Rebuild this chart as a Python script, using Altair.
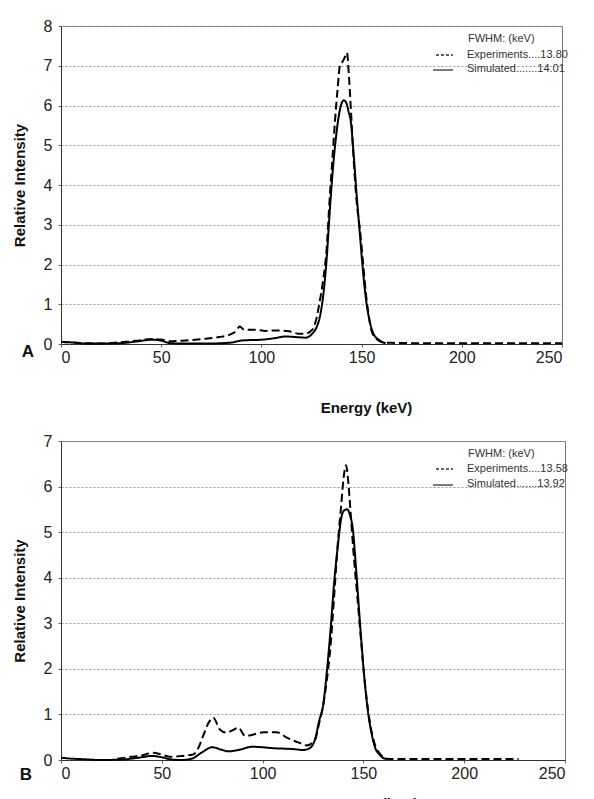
import altair as alt
import pandas as pd

# ---------------- data ----------------
x_ticks = [0, 50, 100, 150, 200, 250]

A_exp_E = [0, 5, 12, 21, 29, 37, 45.7, 50.7, 54, 62, 70.6, 79, 84, 87.2, 89.2, 91.4, 97, 102, 107, 113.7,
           118.7, 122, 125.4, 127, 129.2, 130.8, 132.5, 134.2, 135.5, 136.7, 138, 139.3, 140.5, 141.5, 142.7,
           143.6, 144.6, 145.6, 147.5, 149.4, 150.8, 152.2, 153.6, 155, 157, 158.8, 161, 165, 180, 200, 220, 250]
A_exp_I = [0.05, 0.04, 0.02, 0.01, 0.04, 0.08, 0.125, 0.11, 0.07, 0.09, 0.125, 0.175, 0.23, 0.32, 0.44, 0.36,
           0.36, 0.33, 0.34, 0.32, 0.26, 0.26, 0.36, 0.55, 1.1, 1.6, 2.36, 3.77, 4.7, 5.6, 6.4, 7.04, 7.1, 7.2,
           7.33, 6.8, 5.95, 5.0, 3.6, 2.77, 2.0, 1.25, 0.7, 0.33, 0.15, 0.08, 0.04, 0.03, 0.02, 0.02, 0.02, 0.02]

A_sim_E = [0, 5, 13, 29, 37.4, 45.7, 50.7, 54, 62, 70.6, 84, 90.6, 100.5, 107, 112, 117, 122, 125.4, 127.5,
           129.2, 130.8, 132.5, 134.2, 135.5, 137, 138.5, 140, 141.2, 142.5, 143.5, 144.6, 146, 147.5, 149,
           150.4, 152, 154, 156, 158.8, 160.7, 162]
A_sim_I = [0.05, 0.04, 0.01, 0.02, 0.06, 0.11, 0.075, 0.025, 0.01, 0.01, 0.03, 0.09, 0.11, 0.15, 0.19, 0.175,
           0.16, 0.26, 0.42, 0.69, 1.2, 2.1, 3.4, 4.3, 5.1, 5.7, 6.05, 6.13, 6.05, 5.85, 5.6, 4.8, 3.77, 2.85,
           2.0, 1.2, 0.58, 0.25, 0.1, 0.04, 0.02]

B_exp_E = [28, 35, 40, 45.7, 50, 54, 60, 65.6, 68, 70.5, 73, 75.5, 78.8, 82.1, 85.5, 88, 91.3, 94.6, 97, 100.4,
           104, 107, 112, 115, 118.7, 122, 126, 128, 130.3, 132, 133.6, 135.5, 137.3, 139, 140.2, 141.4, 142.5,
           143.8, 145, 146.7, 148.5, 150.4, 152.3, 154.2, 156, 158, 161.7, 170, 200, 227]
B_exp_I = [0.03, 0.07, 0.1, 0.16, 0.12, 0.07, 0.09, 0.12, 0.25, 0.53, 0.8, 0.93, 0.67, 0.6, 0.66, 0.71, 0.53,
           0.55, 0.58, 0.61, 0.61, 0.61, 0.49, 0.43, 0.37, 0.32, 0.45, 0.8, 1.26, 1.8, 2.45, 3.6, 4.75, 5.6, 6.2,
           6.47, 6.1, 5.34, 4.6, 3.73, 2.8, 1.84, 1.1, 0.59, 0.3, 0.15, 0.03, 0.02, 0.02, 0.02]

B_sim_E = [0, 5, 10, 20, 30, 40, 45, 50, 55, 60, 65, 70, 75, 80, 83, 88, 95, 100, 105, 110, 115, 120, 123, 126,
           128, 130, 132, 133.6, 135.5, 137.3, 139.2, 140.5, 142, 143.3, 144.8, 146.2, 147.6, 149, 150.4, 152.3,
           154.2, 156, 158, 160, 162]
B_sim_I = [0.05, 0.03, 0.02, 0.0, 0.01, 0.06, 0.09, 0.06, 0.01, 0.0, 0.03, 0.17, 0.28, 0.22, 0.19, 0.22, 0.29,
           0.28, 0.26, 0.25, 0.24, 0.22, 0.25, 0.45, 0.85, 1.2, 2.0, 2.8, 3.9, 4.69, 5.35, 5.48, 5.5, 5.38, 5.05,
           4.3, 3.44, 2.6, 1.84, 1.05, 0.55, 0.25, 0.12, 0.04, 0.02]

series_names = ["Experiments", "Simulated"]
legend_title = "FWHM: (keV)"
A_legend = ["Experiments....13.80", "Simulated.......14.01"]
B_legend = ["Experiments....13.58", "Simulated.......13.92"]

FONT = "Liberation Sans"


def one(label):
    return alt.Chart(pd.DataFrame({"t": [label]}))


def panel(exp_E, exp_I, sim_E, sim_I, ymax, w, h, legend_labels, letter, tx, ty, leg_y, letter_xy):
    df = pd.concat([
        pd.DataFrame({"E": exp_E, "I": exp_I, "series": series_names[0]}),
        pd.DataFrame({"E": sim_E, "I": sim_I, "series": series_names[1]}),
    ])
    lines = alt.Chart(df).mark_line(color="black", strokeWidth=2, interpolate="monotone").encode(
        x=alt.X("E:Q", scale=alt.Scale(domain=[0, 250], nice=False),
                axis=alt.Axis(values=x_ticks, title="Energy (keV)", titleX=tx, titleY=ty,
                              titleBaseline="top", grid=False)),
        y=alt.Y("I:Q", scale=alt.Scale(domain=[0, ymax], nice=False),
                axis=alt.Axis(values=list(range(ymax + 1)), title="Relative Intensity", grid=True)),
        strokeDash=alt.StrokeDash("series:N", scale=alt.Scale(domain=series_names, range=[[8, 4], [1, 0]]),
                                  legend=None),
        detail="series:N",
    )
    lx0, lx1, tx0 = 372, 392, 406
    t_title = one(legend_title).mark_text(align="left", baseline="middle", fontSize=11, font=FONT,
                                          color="#333").encode(
        x=alt.value(tx0 + 1), y=alt.value(leg_y[0]), text="t:N")
    t_exp = one(legend_labels[0]).mark_text(align="left", baseline="middle", fontSize=11, font=FONT,
                                            color="#333").encode(
        x=alt.value(tx0), y=alt.value(leg_y[1]), text="t:N")
    t_sim = one(legend_labels[1]).mark_text(align="left", baseline="middle", fontSize=11, font=FONT,
                                            color="#333").encode(
        x=alt.value(tx0), y=alt.value(leg_y[2]), text="t:N")
    r_exp = one("e").mark_rule(color="#333", strokeWidth=1.3, strokeDash=[3, 2]).encode(
        x=alt.value(lx0 + 3), x2=alt.value(lx1), y=alt.value(leg_y[1]))
    r_sim = one("s").mark_rule(color="#333", strokeWidth=1.3).encode(
        x=alt.value(lx0), x2=alt.value(lx1), y=alt.value(leg_y[2] + 1))
    t_letter = one(letter).mark_text(align="center", baseline="middle", fontSize=17, fontWeight="bold",
                                     font=FONT, color="#111").encode(
        x=alt.value(letter_xy[0]), y=alt.value(letter_xy[1]), text="t:N")
    return alt.layer(lines, t_title, t_exp, t_sim, r_exp, r_sim, t_letter).properties(width=w, height=h)


pA = panel(A_exp_E, A_exp_I, A_sim_E, A_sim_I, 8, 501, 318, A_legend, "A", 305, 56, (13, 29, 43), (-33, 326))
pB = panel(B_exp_E, B_exp_I, B_sim_E, B_sim_I, 7, 504, 319, B_legend, "B", 311, 36, (13, 28, 43), (-35, 334))

chart = alt.vconcat(pA, pB, spacing=16).properties(
    padding={"left": 3, "top": 9, "right": 4, "bottom": 0},
    background="white",
).configure_view(
    stroke="#777", strokeWidth=1
).configure_axis(
    labelFont=FONT, labelFontSize=16, labelColor="#222",
    titleFont=FONT, titleFontSize=15, titleFontWeight="bold", titleColor="#111",
    domainColor="#333", tickColor="#666", tickSize=3,
    gridColor="#999", gridDash=[2, 2], gridWidth=1,
).configure_axisX(
    labelPadding=2
).configure_axisY(
    labelPadding=6, titlePadding=16
)

chart.save("out.html", embed_options={"renderer": "svg", "actions": False})
